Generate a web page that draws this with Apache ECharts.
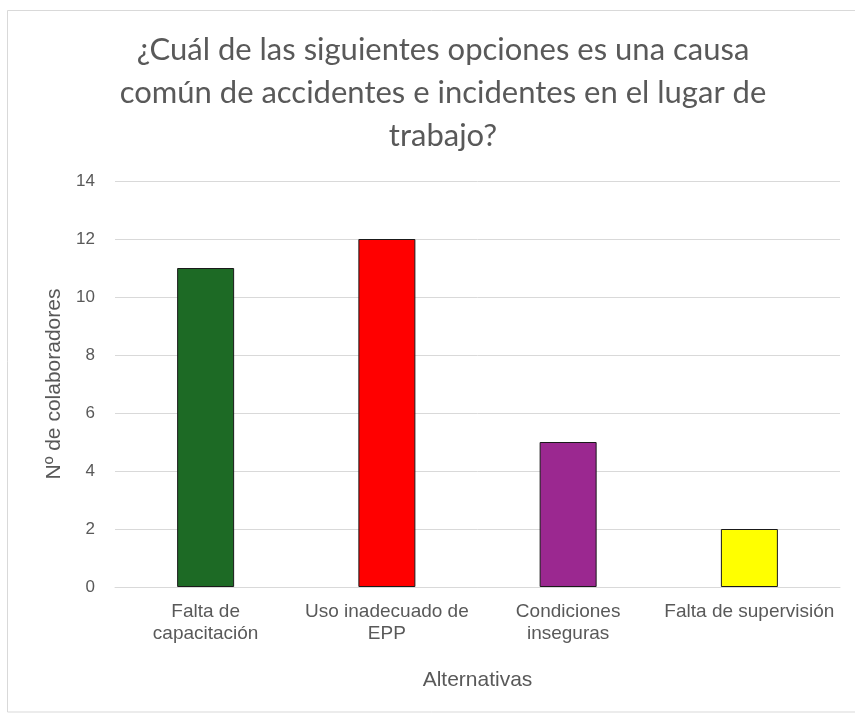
<!DOCTYPE html>
<html><head><meta charset="utf-8">
<script src="https://cdn.jsdelivr.net/npm/echarts@6/dist/echarts.min.js"></script>
<style>html,body{margin:0;padding:0;background:#fff}#c{width:855px;height:714px}</style>
</head><body><div id="c"></div>
<script>
var titleText = "¿Cuál de las siguientes opciones es una causa\ncomún de accidentes e incidentes en el lugar de\ntrabajo?";
var categories = ["Falta de\ncapacitación", "Uso inadecuado de\nEPP", "Condiciones\ninseguras", "Falta de supervisión"];
var values = [11, 12, 5, 2];
var barColors = ["#1D6A25", "#FF0000", "#9B2890", "#FFFF00"];
var yTicks = [0, 2, 4, 6, 8, 10, 12, 14];
var xAxisName = "Alternativas";
var yAxisName = "Nº de colaboradores";

var chart = echarts.init(document.getElementById('c'), null, {renderer: 'canvas'});
chart.setOption({
  animation: false,
  backgroundColor: '#fff',
  graphic: [{
    type: 'rect', shape: {x: 7.5, y: 10.5, width: 900, height: 701.5},
    style: {fill: 'none', stroke: '#d9d9d9', lineWidth: 1}, silent: true
  }],
  title: {
    text: titleText, left: 438, top: 23, textAlign: 'center',
    textStyle: {fontFamily: 'Lato, sans-serif', fontSize: 31, fontWeight: 'normal', color: '#595959', lineHeight: 43}
  },
  grid: {left: 115, right: 15, top: 181, bottom: 127, containLabel: false},
  xAxis: {
    type: 'category', data: categories,
    name: xAxisName, nameLocation: 'middle', nameGap: 83,
    nameTextStyle: {fontFamily: '"Liberation Sans Narrow", sans-serif', fontSize: 21, color: '#595959'},
    axisLine: {show: true, lineStyle: {color: '#d9d9d9', width: 1}},
    axisTick: {show: false},
    axisLabel: {fontFamily: '"Liberation Sans Narrow", sans-serif', fontSize: 19, color: '#595959', lineHeight: 22, margin: 14, interval: 0}
  },
  yAxis: {
    type: 'value', min: 0, max: 14, interval: 2,
    name: yAxisName, nameLocation: 'middle', nameGap: 50, nameRotate: 90,
    nameTextStyle: {fontFamily: '"Liberation Sans", sans-serif', fontSize: 21, color: '#595959'},
    axisLine: {show: false}, axisTick: {show: false},
    axisLabel: {fontFamily: '"Liberation Sans", sans-serif', fontSize: 17, color: '#595959', margin: 20,
      formatter: function (v) { return yTicks.indexOf(v) >= 0 ? String(v) : ''; }},
    splitLine: {lineStyle: {color: '#d9d9d9', width: 1}}
  },
  series: [{
    type: 'bar', barWidth: 57,
    data: values.map(function (v, i) {
      return {value: v, itemStyle: {color: barColors[i], borderColor: '#1a1a1a', borderWidth: 1}};
    })
  }]
});
</script></body></html>
